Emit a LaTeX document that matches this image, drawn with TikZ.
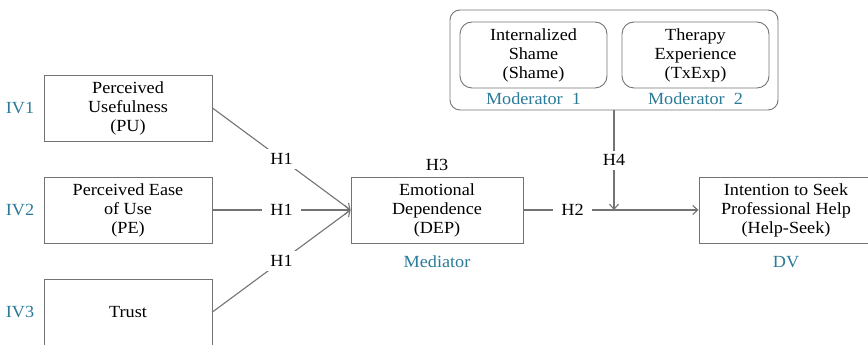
\documentclass[tikz,border=0pt]{standalone}
\usepackage{fontspec}
\setmainfont[FakeStretch=1.07]{Liberation Serif}
\usepackage[dvipsnames]{xcolor}
\usetikzlibrary{arrows.meta}

\definecolor{tagblue}{RGB}{42,122,152}
\definecolor{linegray}{RGB}{115,115,115}

\begin{document}
\begin{tikzpicture}[x=1pt,y=1pt,-,>={Straight Barb[length=5pt,width=9pt]},node distance=102pt,
  main node/.style={rectangle,draw=linegray,line width=0.9pt,minimum width=168pt,minimum height=66pt,inner sep=0pt,align=center,font=\fontsize{17}{19}\selectfont},
  mod node/.style={main node,rounded corners=12pt,minimum width=147pt},
  tag/.style={text=tagblue,font=\fontsize{17}{19}\selectfont},
  hyp/.style={fill=white,inner xsep=8pt,inner ysep=4pt,anchor=center,font=\fontsize{17}{19}\selectfont},
  link/.style={->,draw=linegray,line width=1.1pt}]

            \useasboundingbox (0,0) rectangle (868,345);

            \node[main node] (1) at (128,237) {Perceived\\Usefulness\\(PU)};
            \node[main node] (2) [below of = 1] {Perceived Ease\\of Use\\(PE)};
            \node[main node] (3) [below of = 2] {Trust};
            \node[main node, minimum width=172pt] (4) at (437,135) {Emotional\\Dependence\\(DEP)};
            \node[main node, minimum width=174pt] (5) at (786,135) {Intention to Seek\\Professional Help\\(Help-Seek)};
            \node[draw=linegray, line width=0.9pt, rounded corners=10pt, minimum width=328pt, minimum height=100pt] (8) at (614,285) {};
            \node[mod node] (6) at (533.5,290) {Internalized\\Shame\\(Shame)};
            \node[mod node] (7) at (695.5,290) {Therapy\\Experience\\(TxExp)};

            \node[tag] (iv1) [left of = 1, node distance=108pt] {IV1};
            \node[tag] (iv2) [left of = 2, node distance=108pt] {IV2};
            \node[tag] (iv3) [left of = 3, node distance=108pt] {IV3};
            \node[tag] (med) [below of = 4, node distance=52pt] {Mediator};
            \node[tag] (dv) [below of = 5, node distance=52pt] {DV};
            \node[tag] (mod1) [below of = 6, node distance=44pt] {Moderator~~1};
            \node[tag] (mod2) [below of = 7, node distance=44pt] {Moderator~~2};
            \node[hyp] (h3) [above of = 4, node distance=45pt] {H3};

            \coordinate (9) at (8.south |- 4.east);

            \draw[link] (1.east) to node[hyp]{H1} (4.west);
            \draw[link] (2.east) to node[hyp]{H1} (4.west);
            \draw[link] (3.east) to node[hyp]{H1} (4.west);
            \draw[link] (4.east) to node[hyp, pos=0.28]{H2} (5.west);
            \draw[link] (8.south) to node[hyp]{H4} (9);

            ;
        \end{tikzpicture}
\end{document}
